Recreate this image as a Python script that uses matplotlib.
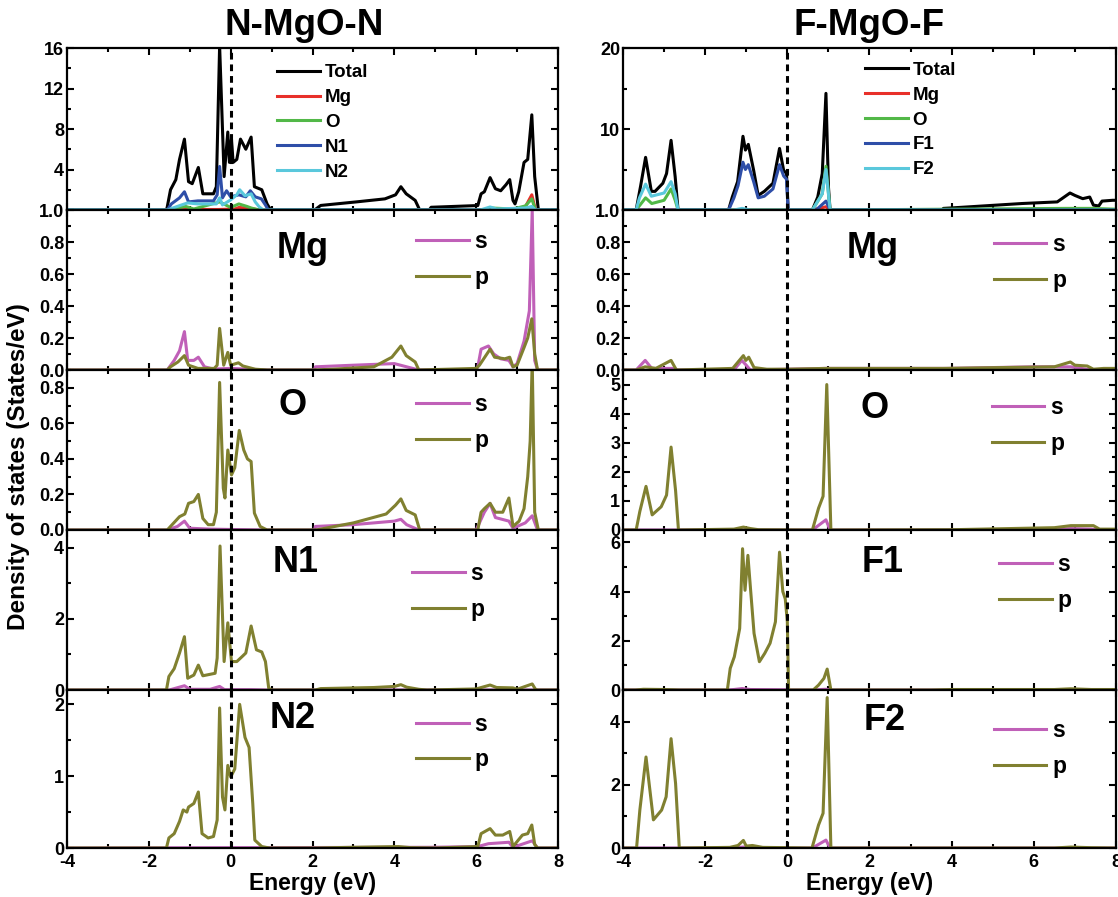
import matplotlib
matplotlib.use("Agg")
import matplotlib.pyplot as plt
from matplotlib.ticker import MultipleLocator

plt.rcParams['font.family'] = ['Liberation Sans', 'DejaVu Sans']
plt.rcParams['font.weight'] = 'bold'
plt.rcParams['axes.unicode_minus'] = False

# ---------------- data (energy in eV, DOS values) ----------------
# N-MgO-N, total panel
nn_tot_e = [-4, -1.57, -1.55, -1.47, -1.34, -1.25, -1.13, -1.03, -0.94, -0.79, -0.68, -0.42, -0.35, -0.27,
            -0.16, -0.07, -0.03, 0.02, 0.06, 0.15, 0.24, 0.37, 0.50, 0.58, 0.76, 0.89, 0.98, 2.05, 2.2,
            3.07, 3.77, 4.03, 4.16, 4.29, 4.51, 4.62, 4.85, 4.9, 6.04, 6.12, 6.2, 6.34, 6.47, 6.6, 6.73,
            6.82, 6.9, 6.95, 7.04, 7.17, 7.26, 7.36, 7.43, 7.52, 8]
nn_tot_v = [0, 0, 0.3, 2.0, 3.0, 5.0, 7.0, 2.8, 2.6, 4.2, 1.6, 1.6, 2.3, 16.2,
            3.3, 7.7, 4.7, 7.0, 4.7, 5.0, 7.0, 6.0, 7.2, 2.3, 2.0, 0.6, 0, 0, 0.45,
            0.8, 1.1, 1.5, 2.3, 1.6, 0.95, 0, 0, 0.27, 0.44, 1.6, 1.8, 3.2, 2.1, 1.9, 2.5,
            3.0, 0.95, 0.6, 1.8, 4.7, 5.0, 9.4, 3.3, 0, 0]
nn_mg_e = [-4, -1.5, -1.1, -0.3, 0.1, 0.2, 0.4, 0.5, 0.7, 7.0, 7.2, 7.36, 7.45, 8]
nn_mg_v = [0, 0, 0.05, 0.05, 0.1, 0.25, 0.2, 0.15, 0, 0, 0.3, 1.5, 0, 0]
nn_o_e = [-4, -1.5, -1.3, -1.1, -0.9, -0.27, 0.0, 0.2, 0.4, 0.5, 0.7, 6.2, 6.35, 6.9, 7.2, 7.36, 7.45, 8]
nn_o_v = [0, 0, 0.2, 0.35, 0.1, 0.8, 0.25, 0.6, 0.35, 0.2, 0, 0, 0.2, 0.1, 0.4, 1.1, 0, 0]
nn_n1_e = [-4, -1.55, -1.45, -1.25, -1.13, -1.03, -0.8, -0.42, -0.33, -0.27, -0.2, -0.1, 0.0, 0.2, 0.37,
           0.48, 0.6, 0.75, 0.85, 0.92, 8]
nn_n1_v = [0, 0, 0.6, 1.2, 1.8, 0.8, 0.9, 0.9, 1.5, 4.3, 1.2, 1.9, 1.3, 1.5, 1.3,
           1.9, 1.3, 1.1, 0.5, 0, 0]
nn_n2_e = [-4, -1.55, -1.2, -1.05, -0.8, -0.35, -0.27, -0.2, 0.0, 0.15, 0.22, 0.35, 0.5, 0.6, 0.7, 0.8,
           6.1, 6.34, 6.5, 7.2, 7.36, 7.45, 8]
nn_n2_v = [0, 0, 0.5, 0.7, 0.6, 0.6, 1.2, 0.5, 1.0, 1.5, 2.0, 1.4, 1.6, 0.8, 0.3, 0,
           0, 0.3, 0.1, 0.2, 0.35, 0, 0]

# N-MgO-N, Mg s / p
nn_mgs_e = [-4, -1.55, -1.38, -1.25, -1.13, -1.05, -0.9, -0.79, -0.64, -0.42, 0.0, 0.9, 2.05, 2.07, 3.0,
            4.0, 4.3, 4.6, 6.0, 6.04, 6.12, 6.3, 6.43, 6.6, 6.8, 6.9, 7.0, 7.17, 7.3, 7.37, 7.43, 7.5, 8]
nn_mgs_v = [0, 0, 0.06, 0.12, 0.24, 0.06, 0.06, 0.08, 0.02, 0.006, 0.01, 0, 0, 0.02, 0.03,
            0.04, 0.02, 0, 0, 0.02, 0.13, 0.15, 0.1, 0.07, 0.06, 0.02, 0.04, 0.18, 0.37, 1.0, 0.06, 0, 0]
nn_mgp_e = [-4, -1.55, -1.47, -1.29, -1.13, -1.03, -0.8, -0.4, -0.33, -0.27, -0.17, -0.07, 0.0, 0.19,
            0.3, 0.6, 0.9, 2.0, 2.5, 3.5, 3.94, 4.16, 4.29, 4.51, 4.6, 6.0, 6.08, 6.34, 6.45, 6.7, 6.82,
            6.9, 7.0, 7.17, 7.26, 7.36, 7.43, 7.5, 8]
nn_mgp_v = [0, 0, 0.02, 0.05, 0.09, 0.03, 0.01, 0.01, 0.03, 0.26, 0.03, 0.11, 0.03, 0.045,
            0.025, 0.005, 0, 0, 0.005, 0.02, 0.08, 0.15, 0.09, 0.05, 0, 0.01, 0.03, 0.13, 0.08, 0.07, 0.08,
            0.02, 0.03, 0.14, 0.2, 0.32, 0.1, 0, 0]

# N-MgO-N, O s / p
nn_os_e = [-4, -1.55, -1.3, -1.13, -1.0, -0.5, 0.0, 0.9, 2.05, 2.07, 3.0, 4.0, 4.16, 4.3, 4.6, 6.0, 6.04,
           6.2, 6.34, 6.47, 6.8, 6.9, 7.2, 7.37, 7.5, 8]
nn_os_v = [0, 0, 0.02, 0.05, 0.01, 0.005, 0.003, 0, 0, 0.02, 0.03, 0.05, 0.06, 0.03, 0, 0, 0.02,
           0.1, 0.15, 0.07, 0.05, 0.01, 0.04, 0.08, 0, 0]
nn_op_e = [-4, -1.55, -1.47, -1.25, -1.12, -1.03, -0.9, -0.79, -0.68, -0.55, -0.42, -0.35, -0.27, -0.18,
           -0.14, -0.07, 0.02, 0.1, 0.21, 0.32, 0.41, 0.5, 0.58, 0.72, 0.89, 2.07, 2.2, 3.0, 3.8, 4.03,
           4.16, 4.29, 4.51, 4.62, 6.04, 6.12, 6.2, 6.34, 6.47, 6.65, 6.8, 6.9, 7.05, 7.17, 7.26, 7.32,
           7.37, 7.43, 7.52, 8]
nn_op_v = [0, 0, 0.02, 0.075, 0.09, 0.15, 0.16, 0.2, 0.065, 0.03, 0.03, 0.1, 0.83, 0.235,
           0.18, 0.45, 0.31, 0.35, 0.56, 0.45, 0.4, 0.385, 0.095, 0.02, 0, 0, 0.005, 0.04, 0.09, 0.14,
           0.175, 0.11, 0.085, 0, 0, 0.1, 0.12, 0.15, 0.1, 0.1, 0.18, 0.02, 0.05, 0.12, 0.3, 0.5,
           0.95, 0.1, 0, 0]

# N-MgO-N, N1 s / p
nn_n1s_e = [-4, -1.5, -1.13, -1.0, -0.5, -0.27, -0.15, 0.5, 0.9, 8]
nn_n1s_v = [0, 0, 0.12, 0.02, 0.02, 0.1, 0.01, 0.01, 0, 0]
nn_n1p_e = [-4, -1.57, -1.51, -1.38, -1.25, -1.13, -1.05, -0.9, -0.79, -0.68, -0.38, -0.33, -0.26, -0.16,
            -0.07, 0.02, 0.15, 0.28, 0.37, 0.5, 0.63, 0.76, 0.85, 0.93, 1.0, 2.07, 2.2, 3.5, 4.0, 4.16,
            4.3, 4.6, 4.8, 6.0, 6.34, 6.5, 6.9, 7.0, 7.37, 7.45, 7.5, 8]
nn_n1p_v = [0, 0, 0.38, 0.6, 1.04, 1.5, 0.33, 0.42, 0.7, 0.4, 0.47, 0.9, 4.05, 0.8,
            1.89, 0.8, 0.8, 0.94, 1.04, 1.8, 1.13, 1.07, 0.8, 0.05, 0, 0, 0.04, 0.07, 0.1, 0.15,
            0.08, 0.02, 0, 0.03, 0.14, 0.07, 0.06, 0.02, 0.17, 0.02, 0, 0]

# N-MgO-N, N2 s / p
nn_n2s_e = [-4, 4.9, 6.04, 6.3, 6.8, 6.9, 7.37, 7.5, 8]
nn_n2s_v = [0, 0.01, 0.02, 0.06, 0.08, 0.01, 0.1, 0, 0]
nn_n2p_e = [-4, -1.57, -1.51, -1.38, -1.25, -1.16, -1.07, -1.03, -0.9, -0.79, -0.7, -0.55, -0.42, -0.33,
            -0.27, -0.2, -0.14, -0.07, 0.0, 0.1, 0.22, 0.35, 0.45, 0.54, 0.59, 0.76, 0.95, 2.07, 3.0,
            4.1, 4.4, 5.0, 6.04, 6.12, 6.34, 6.47, 6.65, 6.82, 6.9, 7.13, 7.26, 7.36, 7.43, 7.5, 8]
nn_n2p_v = [0, 0, 0.14, 0.2, 0.37, 0.53, 0.5, 0.57, 0.62, 0.78, 0.2, 0.14, 0.16, 0.39,
            1.95, 0.71, 0.53, 1.15, 0.99, 1.1, 2.0, 1.54, 1.4, 0.62, 0.11, 0.02, 0, 0, 0.01,
            0.02, 0.005, 0, 0.02, 0.2, 0.27, 0.18, 0.18, 0.23, 0.02, 0.18, 0.2, 0.32, 0.05, 0, 0]

# F-MgO-F, total panel
ff_tot_e = [-4, -3.68, -3.57, -3.45, -3.31, -3.22, -3.03, -2.94, -2.83, -2.73, -2.66, -1.43, -1.34, -1.21,
            -1.08, -1.02, -0.95, -0.82, -0.71, -0.56, -0.35, -0.19, -0.09, -0.02, 0.02, 0.61, 0.74, 0.85,
            0.94, 1.0, 1.04, 3.77, 3.8, 3.98, 5.71, 6.57, 6.88, 7.0, 7.19, 7.36, 7.45, 7.58, 7.66, 7.92, 8]
ff_tot_v = [0, 0, 3.0, 6.5, 2.3, 2.3, 3.3, 4.5, 8.6, 4.1, 0, 0, 1.6, 3.5,
            9.1, 7.4, 8.1, 4.9, 1.8, 2.3, 3.3, 7.6, 4.9, 4.5, 0, 0, 1.6, 4.5,
            14.4, 2.9, 0, 0, 0.2, 0.25, 0.8, 1.0, 2.1, 1.8, 1.4, 1.6, 0.6, 0.5, 1.1, 1.2, 1.2]
ff_mg_e = [-4, 0.6, 0.94, 1.04, 8]
ff_mg_v = [0, 0, 0.4, 0, 0]
ff_o_e = [-4, -3.68, -3.45, -3.3, -3.0, -2.83, -2.73, -2.66, 0.61, 0.85, 0.94, 1.04, 6.8, 7.4, 8]
ff_o_v = [0, 0, 1.5, 0.8, 1.2, 2.6, 1.2, 0, 0, 2.0, 5.4, 0, 0.2, 0.2, 0.1]
ff_f1_e = [-4, -1.43, -1.3, -1.2, -1.08, -1.02, -0.95, -0.82, -0.71, -0.56, -0.35, -0.19, -0.09, -0.02,
           0.02, 0.7, 0.94, 1.04, 8]
ff_f1_v = [0, 0, 1.5, 3.0, 5.9, 5.0, 5.6, 3.5, 1.5, 1.7, 2.6, 5.6, 4.2, 3.8,
           0, 0, 1.1, 0, 0]
ff_f2_e = [-4, -3.68, -3.6, -3.45, -3.31, -3.0, -2.83, -2.73, -2.66, -1.3, -1.1, -0.9, 0.61, 0.85, 0.94,
           1.04, 8]
ff_f2_v = [0, 0, 1.5, 3.2, 1.7, 2.1, 3.5, 2.0, 0, 0, 0.2, 0, 0, 2.0, 5.0,
           0, 0]

# F-MgO-F, Mg s / p
ff_mgs_e = [-4, -3.68, -3.46, -3.3, -2.8, -2.66, -1.3, -1.11, -1.0, -0.9, 0.94, 3.9, 6.0, 6.9, 7.4, 8]
ff_mgs_v = [0, 0, 0.06, 0.01, 0.01, 0, 0, 0.06, 0.03, 0, 0.01, 0.01, 0.02, 0.02, 0, 0]
ff_mgp_e = [-4, -3.68, -3.46, -3.2, -2.83, -2.7, -1.33, -1.07, -1.01, -0.94, -0.81, -0.5, 0.0, 0.94, 3.8,
            6.5, 6.89, 7.0, 7.3, 7.45, 7.7, 8]
ff_mgp_v = [0, 0, 0.02, 0.01, 0.06, 0, 0.01, 0.09, 0.06, 0.08, 0.015, 0.005, 0.005, 0.01, 0.01,
            0.02, 0.05, 0.03, 0.025, 0.005, 0.01, 0.01]

# F-MgO-F, O s / p
ff_os_e = [-4, 0.61, 0.94, 1.04, 6.5, 6.9, 7.4, 7.6, 8]
ff_os_v = [0, 0, 0.35, 0, 0, 0.05, 0.03, 0, 0]
ff_op_e = [-4, -3.68, -3.59, -3.44, -3.29, -3.07, -2.94, -2.83, -2.72, -2.65, -1.3, -1.07, -0.9, -0.7,
           0.61, 0.76, 0.87, 0.96, 1.06, 4.0, 6.5, 6.9, 7.45, 7.6, 8]
ff_op_v = [0, 0, 0.64, 1.5, 0.52, 0.8, 1.2, 2.85, 1.35, 0, 0.03, 0.1, 0.05, 0.01,
           0, 0.75, 1.16, 5.0, 0, 0.01, 0.08, 0.15, 0.15, 0.03, 0.03]

# F-MgO-F, F1 s / p
ff_f1s_e = [-4, -1.46, -1.3, -1.1, -0.9, 0.0, 0.03, 0.6, 0.94, 1.06, 8]
ff_f1s_v = [0, 0, 0.02, 0.06, 0.02, 0.01, 0, 0, 0.03, 0, 0]
ff_f1p_e = [-4, -3.7, -3.5, -3.0, -2.6, -1.46, -1.39, -1.29, -1.16, -1.09, -1.03, -0.96, -0.9, -0.81,
            -0.68, -0.55, -0.42, -0.29, -0.19, -0.11, -0.05, 0.0, 0.03, 0.63, 0.76, 0.89, 0.97, 1.06,
            3.5, 4.0, 6.5, 6.9, 7.4, 8]
ff_f1p_v = [0, 0, 0.03, 0.02, 0, 0, 0.88, 1.35, 2.5, 5.74, 4.05, 5.47, 4.19, 2.3,
            1.15, 1.49, 1.9, 2.77, 5.6, 4.0, 3.7, 2.77, 0, 0, 0.2, 0.47, 0.85, 0,
            0, 0.02, 0.02, 0.05, 0.02, 0.02]

# F-MgO-F, F2 s / p
ff_f2s_e = [-4, -1.3, -1.07, -0.9, 0.61, 0.94, 1.04, 8]
ff_f2s_v = [0, 0, 0.03, 0, 0, 0.25, 0, 0]
ff_f2p_e = [-4, -3.67, -3.59, -3.44, -3.26, -3.06, -2.95, -2.83, -2.72, -2.63, -1.4, -1.2, -1.07, -1.0,
            -0.85, -0.6, 0.0, 0.6, 0.76, 0.87, 0.97, 1.06, 6.5, 6.9, 7.4, 8]
ff_f2p_v = [0, 0, 1.2, 2.88, 0.89, 1.2, 1.62, 3.46, 2.04, 0, 0.02, 0.08, 0.24, 0.06,
            0.08, 0.02, 0.01, 0, 0.73, 1.1, 4.76, 0, 0, 0.03, 0.01, 0]

tot_labels_nn = ['Total', 'Mg', 'O', 'N1', 'N2']
tot_labels_ff = ['Total', 'Mg', 'O', 'F1', 'F2']
pdos_names_nn = ['Mg', 'O', 'N1', 'N2']
pdos_names_ff = ['Mg', 'O', 'F1', 'F2']
orb_labels = ['s', 'p']

# ---------------- styling ----------------
tot_colors = ['black', '#e8302a', '#52b848', '#2e4ea8', '#5ac8dc']
s_color = '#c060b8'
p_color = '#808030'

W, H = 1118, 897
fig = plt.figure(figsize=(W / 100, H / 100), dpi=100)

col_x = [(67, 558), (623, 1116)]
row_y = [48, 210, 370, 530, 690, 848]

axes = [[None] * 5 for _ in range(2)]
for c in range(2):
    x0, x1 = col_x[c]
    for r in range(5):
        y0, y1 = row_y[r], row_y[r + 1]
        axes[c][r] = fig.add_axes([x0 / W, 1 - y1 / H, (x1 - x0) / W, (y1 - y0) / H])

cols = [
    dict(title='N-MgO-N', tx=0.483,
         tot=[(nn_tot_e, nn_tot_v), (nn_mg_e, nn_mg_v), (nn_o_e, nn_o_v), (nn_n1_e, nn_n1_v), (nn_n2_e, nn_n2_v)],
         tot_labels=tot_labels_nn, tot_ylim=16, tot_major=4, tot_minor=2, tot_leg=(0.428, 0.90),
         names=pdos_names_nn,
         pdos=[((nn_mgs_e, nn_mgs_v), (nn_mgp_e, nn_mgp_v)),
               ((nn_os_e, nn_os_v), (nn_op_e, nn_op_v)),
               ((nn_n1s_e, nn_n1s_v), (nn_n1p_e, nn_n1p_v)),
               ((nn_n2s_e, nn_n2s_v), (nn_n2p_e, nn_n2p_v))],
         ylims=[1.0, 0.9, 4.5, 2.2], majors=[0.2, 0.2, 2, 1], minors=[0.1, 0.1, 1, 0.5],
         fmts=['%.1f', '%.1f', '%d', '%d'],
         lab_pos=[(0.48, 0.76), (0.46, 0.78), (0.465, 0.80), (0.46, 0.82)],
         leg_pos=[(0.711, 0.875), (0.711, 0.856), (0.703, 0.80), (0.711, 0.856)]),
    dict(title='F-MgO-F', tx=0.50,
         tot=[(ff_tot_e, ff_tot_v), (ff_mg_e, ff_mg_v), (ff_o_e, ff_o_v), (ff_f1_e, ff_f1_v), (ff_f2_e, ff_f2_v)],
         tot_labels=tot_labels_ff, tot_ylim=20, tot_major=10, tot_minor=5, tot_leg=(0.49, 0.914),
         names=pdos_names_ff,
         pdos=[((ff_mgs_e, ff_mgs_v), (ff_mgp_e, ff_mgp_v)),
               ((ff_os_e, ff_os_v), (ff_op_e, ff_op_v)),
               ((ff_f1s_e, ff_f1s_v), (ff_f1p_e, ff_f1p_v)),
               ((ff_f2s_e, ff_f2s_v), (ff_f2p_e, ff_f2p_v))],
         ylims=[1.0, 5.5, 6.5, 5.0], majors=[0.2, 1, 2, 2], minors=[0.1, 0.5, 1, 1],
         fmts=['%.1f', '%d', '%d', '%d'],
         lab_pos=[(0.507, 0.76), (0.51, 0.76), (0.527, 0.80), (0.53, 0.81)],
         leg_pos=[(0.752, 0.856), (0.748, 0.8375), (0.763, 0.856), (0.752, 0.816)]),
]


def style(ax, ymax, major, minor, fmt, bottom):
    ax.set_xlim(-4, 8)
    ax.set_ylim(0, ymax)
    ax.xaxis.set_major_locator(MultipleLocator(2))
    ax.xaxis.set_minor_locator(MultipleLocator(1))
    ax.yaxis.set_major_locator(MultipleLocator(major))
    ax.yaxis.set_minor_locator(MultipleLocator(minor))
    ax.yaxis.set_major_formatter(plt.FormatStrFormatter(fmt))
    ax.tick_params(which='both', direction='in', top=True, right=True, width=1.5, labelsize=13)
    ax.tick_params(which='major', length=5)
    ax.tick_params(which='minor', length=3)
    ax.tick_params(axis='y', pad=2)
    ax.tick_params(axis='x', pad=4)
    if not bottom:
        ax.tick_params(axis='x', labelbottom=False)
    for sp in ax.spines.values():
        sp.set_linewidth(1.6)
    ax.axvline(0, color='black', ls=(0, (2.2, 1.6)), lw=2.2, zorder=5)


for c, cfg in enumerate(cols):
    ax = axes[c][0]
    for (e, v), lab, col in zip(cfg['tot'], cfg['tot_labels'], tot_colors):
        ax.plot(e, v, color=col, lw=2.2, label=lab)
    style(ax, cfg['tot_ylim'], cfg['tot_major'], cfg['tot_minor'], '%d', False)
    ax.set_yticks([t for t in ax.get_yticks() if 0 < t <= cfg['tot_ylim']])
    ax.legend(loc='upper left', bbox_to_anchor=cfg['tot_leg'], frameon=False, fontsize=13.5,
              handlelength=2.3, handletextpad=0.25, labelspacing=0.41, borderpad=0, borderaxespad=0)
    ax.text(cfg['tx'], 1.03, cfg['title'], transform=ax.transAxes, ha='center', va='bottom',
            fontsize=26.5, fontweight='bold')

    for r in range(4):
        ax = axes[c][r + 1]
        (se, sv), (pe, pv) = cfg['pdos'][r]
        ax.plot(se, sv, color=s_color, lw=2.2, label=orb_labels[0])
        ax.plot(pe, pv, color=p_color, lw=2.2, label=orb_labels[1])
        style(ax, cfg['ylims'][r], cfg['majors'][r], cfg['minors'][r], cfg['fmts'][r], r == 3)
        lx, ly = cfg['lab_pos'][r]
        ax.text(lx, ly, cfg['names'][r], transform=ax.transAxes, ha='center', va='center',
                fontsize=26, fontweight='bold')
        ax.legend(loc='upper left', bbox_to_anchor=cfg['leg_pos'][r], frameon=False, fontsize=16.5,
                  handlelength=2.3, handletextpad=0.25, labelspacing=0.55, borderpad=0, borderaxespad=0)
        if r == 3:
            ax.set_xlabel('Energy (eV)', fontsize=16.5, fontweight='bold', labelpad=1)

fig.text(19 / W, 1 - 467 / H, 'Density of states (States/eV)', rotation=90, ha='center', va='center',
         fontsize=17.5, fontweight='bold')

fig.savefig('out.png', dpi=100)
